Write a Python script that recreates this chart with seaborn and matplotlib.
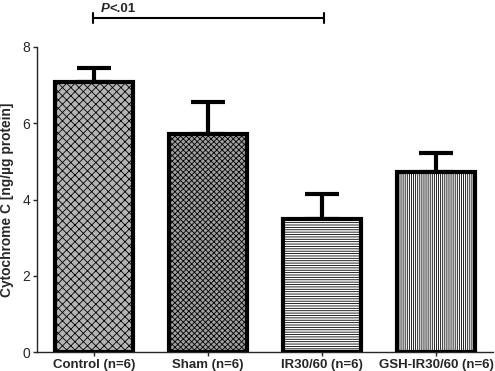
import matplotlib
matplotlib.use("Agg")
import matplotlib.pyplot as plt
import seaborn as sns
import pandas as pd
import numpy as np

groups = ["Control (n=6)", "Sham (n=6)", "IR30/60 (n=6)", "GSH-IR30/60 (n=6)"]
means = [7.07, 5.72, 3.49, 4.72]
sems = [0.37, 0.85, 0.65, 0.50]
y_ticks = [0, 2, 4, 6, 8]

sns.set_theme(style="ticks")
plt.rcParams['font.family'] = ['Liberation Sans', 'DejaVu Sans']
plt.rcParams['hatch.linewidth'] = 0.6

df = pd.DataFrame({"group": groups, "value": means})

fig = plt.figure(figsize=(4.95, 3.71), dpi=100)
ax = fig.add_axes([37/495, 1 - 352/371, (493-37)/495, (352-47)/371])

sns.barplot(data=df, x="group", y="value", ax=ax, width=0.69,
            color="white", edgecolor="black", linewidth=3.0, errorbar=None,
            zorder=3)

faces = ["#b4b4b4", "#a0a0a0", "white", "white"]
hatches = ["xxxx", "xxxxxx", "-------", "||||||||"]
for patch, fc, h in zip(ax.patches, faces, hatches):
    patch.set_facecolor(fc)
    patch.set_hatch(h)

ax.errorbar(range(len(groups)), means, yerr=[np.zeros(len(sems)), sems],
            fmt="none", ecolor="black", elinewidth=3.0, capsize=12,
            capthick=3.0, zorder=2)

ax.set_ylim(0, 8)
ax.set_xlim(-0.5, 3.5)
ax.set_yticks(y_ticks)
ax.set_yticklabels([str(t) for t in y_ticks], fontsize=10)
ax.set_xticks(range(len(groups)))
ax.set_xticklabels(groups, fontsize=9.5, fontweight="bold")
ax.set_xlabel("")
ax.set_ylabel("Cytochrome C [ng/µg protein]", fontsize=9.9, fontweight="bold", labelpad=6)
sns.despine(ax=ax, top=True, right=True)
ax.tick_params(axis="both", length=3, width=1, pad=2)
for s in ["left", "bottom"]:
    ax.spines[s].set_linewidth(1.0)

# significance bar
yb = 8.77
ax.plot([-0.01, 2.02], [yb, yb], color="black", lw=1.5, clip_on=False)
ax.plot([-0.01, -0.01], [yb - 0.13, yb + 0.13], color="black", lw=1.5, clip_on=False)
ax.plot([2.02, 2.02], [yb - 0.13, yb + 0.13], color="black", lw=1.5, clip_on=False)
tp = ax.text(0.06, 8.93, "P", fontsize=9.5, fontweight="bold", fontstyle="italic",
             ha="left", va="baseline", clip_on=False)
ax.annotate("<.01", xy=(1, 0), xycoords=tp, fontsize=9.5, fontweight="bold",
            ha="left", va="bottom", annotation_clip=False)

fig.savefig("out.png", dpi=100)
